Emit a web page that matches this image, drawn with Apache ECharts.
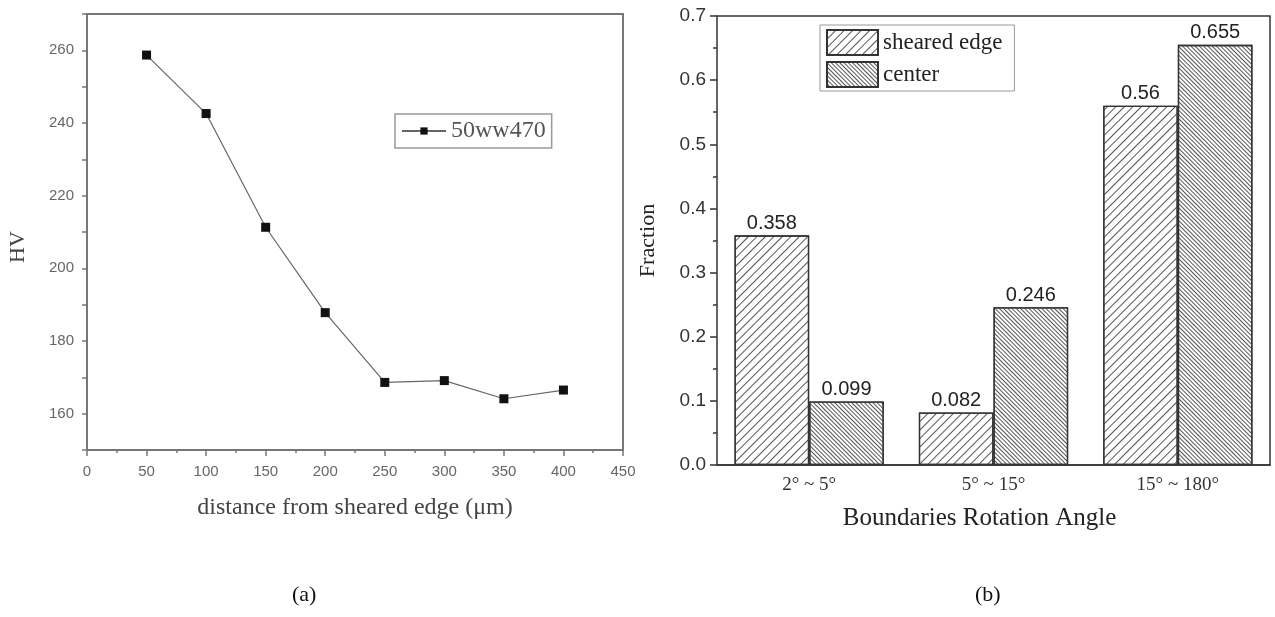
<!DOCTYPE html>
<html>
<head>
<meta charset="utf-8">
<script src="https://cdn.jsdelivr.net/npm/echarts@6/dist/echarts.min.js"></script>
<style>
  html, body { margin: 0; padding: 0; background: #fff; }
  #chart { width: 1275px; height: 617px; }
</style>
</head>
<body>
<div id="chart"></div>
<script>
// (a) micro-hardness profile
const distance = [50, 100, 150, 200, 250, 300, 350, 400];
const hardness = [258.7, 242.6, 211.3, 187.8, 168.6, 169.1, 164.1, 166.5];

// (b) grain boundary fractions
const angleCategories = ['2° ~ 5°', '5° ~ 15°', '15° ~ 180°'];
const shearedEdge = [0.358, 0.082, 0.56];
const center = [0.099, 0.246, 0.655];

const serif = '"Liberation Serif", "DejaVu Serif", serif';
const sans = '"Liberation Sans", Arial, sans-serif';

const chart = echarts.init(document.getElementById('chart'), null, { renderer: 'canvas' });

// "/" hatch, wide spacing
const hatchSheared = {
  symbol: 'rect', symbolSize: 1,
  dashArrayX: [1, 0], dashArrayY: [1, 5],
  rotation: -Math.PI / 4, color: '#555'
};
// "\" hatch, dense spacing
const hatchCenter = {
  symbol: 'rect', symbolSize: 1,
  dashArrayX: [1, 0], dashArrayY: [1, 2],
  rotation: Math.PI / 4, color: '#555'
};

chart.setOption({
  animation: false,
  backgroundColor: '#fff',
  grid: [
    { left: 87, top: 14, width: 536, height: 436, show: true, borderColor: '#777', borderWidth: 2, backgroundColor: 'transparent' },
    { left: 717, top: 16, width: 553, height: 449, show: true, borderColor: '#333', borderWidth: 1.5, backgroundColor: 'transparent' }
  ],
  legend: [
    {
      data: ['50ww470'],
      left: 395, top: 114,
      orient: 'horizontal',
      itemWidth: 44, itemHeight: 9,
      padding: [5, 6, 5, 6],
      borderColor: '#999', borderWidth: 1.5,
      textStyle: { fontFamily: serif, fontSize: 24, color: '#555' }
    },
    {
      data: [
        { name: 'sheared edge', icon: 'rect' },
        { name: 'center', icon: 'rect' }
      ],
      left: 820, top: 25,
      orient: 'vertical',
      itemWidth: 51, itemHeight: 25,
      itemGap: 5,
      padding: [4, 12, 3, 6],
      borderColor: '#999', borderWidth: 1,
      textStyle: { fontFamily: serif, fontSize: 23, color: '#222' }
    }
  ],
  xAxis: [
    {
      gridIndex: 0, type: 'value', min: 0, max: 450, interval: 50,
      name: 'distance from sheared edge (μm)', nameLocation: 'middle', nameGap: 46,
      nameTextStyle: { fontFamily: serif, fontSize: 24, color: '#444' },
      axisLine: { onZero: false, lineStyle: { color: '#777', width: 2 } },
      axisTick: { show: true, inside: false, length: 6, lineStyle: { color: '#777', width: 1.5 } },
      minorTick: { show: true, splitNumber: 2, length: 3, lineStyle: { color: '#777', width: 1.5 } },
      axisLabel: { fontFamily: sans, fontSize: 15, color: '#666', margin: 14 },
      splitLine: { show: false }
    },
    {
      gridIndex: 1, type: 'category', data: angleCategories,
      name: 'Boundaries Rotation Angle', nameLocation: 'middle', nameGap: 41,
      nameTextStyle: { fontFamily: serif, fontSize: 25, color: '#222', padding: [0, 28, 0, 0] },
      axisLine: { lineStyle: { color: '#333', width: 1.5 } },
      axisTick: { show: false },
      axisLabel: { fontFamily: serif, fontSize: 19, color: '#333', margin: 11 },
      splitLine: { show: false }
    }
  ],
  yAxis: [
    {
      gridIndex: 0, type: 'value', min: 150, max: 270, interval: 10,
      name: 'HV', nameLocation: 'middle', nameGap: 58, nameRotate: 90,
      nameTextStyle: { fontFamily: serif, fontSize: 22, color: '#444', padding: [0, 30, 0, 0] },
      axisLine: { lineStyle: { color: '#777', width: 2 } },
      axisTick: { show: true, inside: false, length: 5, lineStyle: { color: '#777', width: 1.5 } },
      axisLabel: {
        fontFamily: sans, fontSize: 15, color: '#666', margin: 13,
        formatter: v => (v % 20 === 0 ? String(v) : '')
      },
      splitLine: { show: false }
    },
    {
      gridIndex: 1, type: 'value', min: 0, max: 0.7, interval: 0.1,
      name: 'Fraction', nameLocation: 'middle', nameGap: 58, nameRotate: 90,
      nameTextStyle: { fontFamily: serif, fontSize: 22, color: '#222' },
      axisLine: { lineStyle: { color: '#333', width: 1.5 } },
      axisTick: { show: true, inside: false, length: 7, lineStyle: { color: '#333', width: 1.5 } },
      minorTick: { show: true, splitNumber: 2, length: 4, lineStyle: { color: '#333', width: 1.5 } },
      axisLabel: { fontFamily: sans, fontSize: 19, color: '#333', margin: 11, formatter: v => v.toFixed(1) },
      splitLine: { show: false }
    }
  ],
  series: [
    {
      name: '50ww470', type: 'line',
      xAxisIndex: 0, yAxisIndex: 0,
      data: distance.map((d, i) => [d, hardness[i]]),
      symbol: 'rect', symbolSize: 9,
      itemStyle: { color: '#111' },
      lineStyle: { color: '#666', width: 1.2 }
    },
    {
      name: 'sheared edge', type: 'bar',
      xAxisIndex: 1, yAxisIndex: 1,
      data: shearedEdge,
      barGap: '0%', barCategoryGap: '19%',
      itemStyle: { color: '#fff', borderColor: '#333', borderWidth: 1.3, decal: hatchSheared },
      label: { show: true, position: 'top', distance: 2, fontFamily: sans, fontSize: 20, color: '#222' }
    },
    {
      name: 'center', type: 'bar',
      xAxisIndex: 1, yAxisIndex: 1,
      data: center,
      barGap: '0%', barCategoryGap: '19%',
      itemStyle: { color: '#fff', borderColor: '#333', borderWidth: 1.3, decal: hatchCenter },
      label: { show: true, position: 'top', distance: 2, fontFamily: sans, fontSize: 20, color: '#222' }
    }
  ],
  graphic: [
    { type: 'text', left: 292, top: 584, style: { text: '(a)', fontFamily: serif, fontSize: 22, fill: '#111' } },
    { type: 'text', left: 975, top: 584, style: { text: '(b)', fontFamily: serif, fontSize: 22, fill: '#111' } }
  ]
});
</script>
</body>
</html>
